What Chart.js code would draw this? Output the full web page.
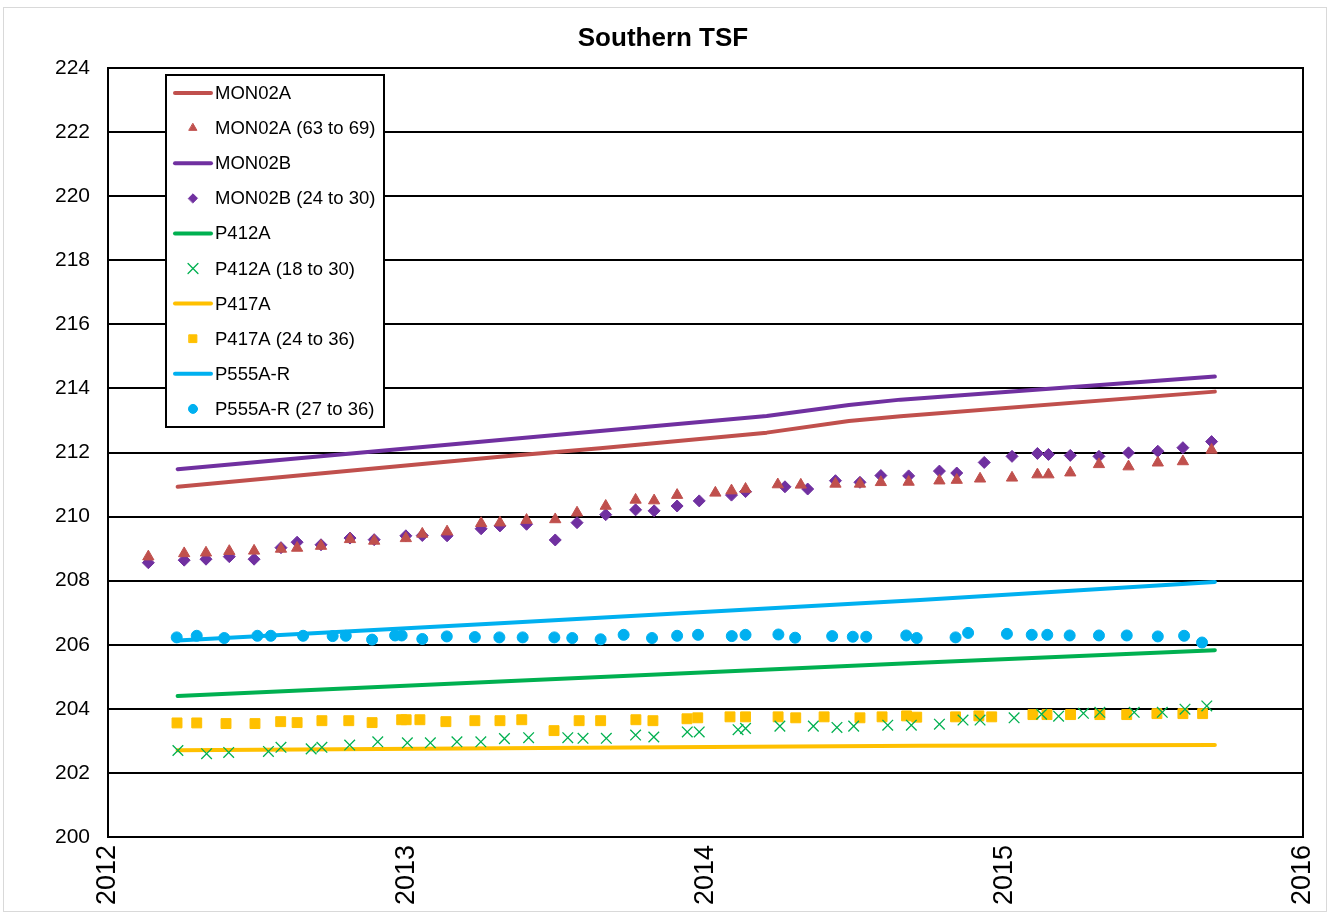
<!DOCTYPE html>
<html>
<head>
<meta charset="utf-8">
<title>Southern TSF</title>
<script src="https://cdn.jsdelivr.net/npm/chart.js@4.4.1/dist/chart.umd.min.js"></script>
<style>
body { margin: 0; background: #fff; }
canvas { display: block; }
</style>
</head>
<body>
<canvas id="chart" width="1330" height="915"></canvas>
<script>
//x axis range and tick years
var yearTicks = [2012, 2013, 2014, 2015, 2016];
var levelTicks = [200, 202, 204, 206, 208, 210, 212, 214, 216, 218, 220, 222, 224];

//MON02A
var mon02aLineX = [2012.233, 2013.312, 2013.647, 2014.205, 2014.48, 2014.653, 2015.705];
var mon02aLineY = [210.93, 211.87, 212.13, 212.62, 212.98, 213.13, 213.90];
var mon02aX = [2012.135, 2012.255, 2012.328, 2012.406, 2012.489, 2012.579, 2012.633, 2012.713, 2012.810, 2012.891,
    2012.997, 2013.052, 2013.135, 2013.249, 2013.312, 2013.401, 2013.497, 2013.570, 2013.666, 2013.766,
    2013.828, 2013.905, 2014.033, 2014.087, 2014.134, 2014.242, 2014.319, 2014.435, 2014.517, 2014.587,
    2014.680, 2014.783, 2014.841, 2014.919, 2015.026, 2015.111, 2015.148, 2015.221, 2015.317, 2015.416,
    2015.514, 2015.598, 2015.694];
var mon02aY = [208.75, 208.85, 208.87, 208.92, 208.93, 208.99, 209.02, 209.08, 209.29, 209.24,
    209.32, 209.46, 209.53, 209.79, 209.81, 209.89, 209.91, 210.12, 210.33, 210.52,
    210.50, 210.67, 210.74, 210.81, 210.86, 211.00, 210.99, 211.02, 211.02, 211.07,
    211.08, 211.12, 211.14, 211.18, 211.21, 211.31, 211.31, 211.37, 211.63, 211.56,
    211.68, 211.72, 212.08];

//MON02B
var mon02bLineX = [2012.233, 2013.312, 2013.647, 2014.205, 2014.48, 2014.653, 2015.705];
var mon02bLineY = [211.48, 212.39, 212.67, 213.14, 213.48, 213.65, 214.37];
var mon02bX = [2012.135, 2012.255, 2012.328, 2012.406, 2012.489, 2012.579, 2012.633, 2012.713, 2012.810, 2012.891,
    2012.997, 2013.052, 2013.135, 2013.249, 2013.312, 2013.401, 2013.497, 2013.570, 2013.666, 2013.766,
    2013.828, 2013.905, 2013.979, 2014.087, 2014.134, 2014.266, 2014.342, 2014.435, 2014.517, 2014.587,
    2014.680, 2014.783, 2014.841, 2014.933, 2015.026, 2015.111, 2015.148, 2015.221, 2015.317, 2015.416,
    2015.514, 2015.598, 2015.694];
var mon02bY = [208.56, 208.64, 208.67, 208.75, 208.67, 209.03, 209.20, 209.12, 209.33, 209.28,
    209.40, 209.41, 209.40, 209.62, 209.71, 209.76, 209.27, 209.81, 210.06, 210.21,
    210.18, 210.33, 210.49, 210.67, 210.78, 210.93, 210.86, 211.12, 211.07, 211.28,
    211.27, 211.42, 211.36, 211.69, 211.88, 211.97, 211.94, 211.91, 211.88, 211.99,
    212.04, 212.15, 212.34];

//P412A
var p412aLineX = [2012.233, 2013.312, 2014.718, 2015.705];
var p412aLineY = [204.40, 204.85, 205.44, 205.83];
var p412aX = [2012.234, 2012.330, 2012.404, 2012.537, 2012.579, 2012.680, 2012.716, 2012.809, 2012.903, 2013.002,
    2013.079, 2013.168, 2013.248, 2013.327, 2013.408, 2013.539, 2013.590, 2013.668, 2013.766, 2013.827,
    2013.939, 2013.979, 2014.109, 2014.134, 2014.249, 2014.361, 2014.440, 2014.496, 2014.610, 2014.689,
    2014.783, 2014.862, 2014.919, 2015.033, 2015.125, 2015.182, 2015.265, 2015.320, 2015.435, 2015.529,
    2015.605, 2015.678];
var p412aY = [202.70, 202.60, 202.64, 202.67, 202.80, 202.75, 202.80, 202.87, 202.97, 202.94,
    202.94, 202.97, 202.97, 203.07, 203.10, 203.10, 203.08, 203.08, 203.18, 203.12,
    203.28, 203.28, 203.35, 203.39, 203.46, 203.46, 203.42, 203.46, 203.49, 203.49,
    203.52, 203.65, 203.65, 203.72, 203.83, 203.77, 203.86, 203.89, 203.89, 203.89,
    203.99, 204.09];

//P417A
var p417aLineX = [2012.233, 2013.312, 2014.718, 2015.705];
var p417aLineY = [202.71, 202.77, 202.85, 202.87];
var p417aX = [2012.231, 2012.297, 2012.395, 2012.492, 2012.578, 2012.633, 2012.716, 2012.806, 2012.884, 2012.983,
    2012.998, 2013.044, 2013.131, 2013.228, 2013.312, 2013.385, 2013.493, 2013.577, 2013.649, 2013.767,
    2013.824, 2013.938, 2013.974, 2014.082, 2014.134, 2014.243, 2014.302, 2014.397, 2014.517, 2014.591,
    2014.673, 2014.707, 2014.837, 2014.915, 2014.958, 2015.096, 2015.143, 2015.222, 2015.320, 2015.410,
    2015.511, 2015.598, 2015.664];
var p417aY = [203.56, 203.56, 203.54, 203.54, 203.60, 203.57, 203.63, 203.63, 203.57, 203.66,
    203.66, 203.66, 203.60, 203.63, 203.63, 203.66, 203.32, 203.63, 203.63, 203.66,
    203.63, 203.69, 203.72, 203.75, 203.75, 203.75, 203.72, 203.75, 203.72, 203.75,
    203.78, 203.74, 203.75, 203.78, 203.75, 203.82, 203.82, 203.82, 203.82, 203.82,
    203.85, 203.85, 203.85];

//P555A-R
var p555LineX = [2012.233, 2013.312, 2014.718, 2015.705];
var p555LineY = [206.13, 206.67, 207.40, 207.96];
var p555X = [2012.230, 2012.297, 2012.389, 2012.500, 2012.545, 2012.653, 2012.752, 2012.796, 2012.884, 2012.961,
    2012.983, 2013.052, 2013.134, 2013.228, 2013.310, 2013.388, 2013.494, 2013.554, 2013.649, 2013.726,
    2013.821, 2013.905, 2013.975, 2014.088, 2014.134, 2014.244, 2014.300, 2014.424, 2014.493, 2014.538,
    2014.672, 2014.707, 2014.837, 2014.879, 2015.009, 2015.092, 2015.144, 2015.219, 2015.317, 2015.410,
    2015.514, 2015.602, 2015.662];
var p555Y = [206.23, 206.28, 206.21, 206.28, 206.28, 206.28, 206.27, 206.28, 206.16, 206.29,
    206.29, 206.18, 206.26, 206.24, 206.23, 206.23, 206.23, 206.21, 206.17, 206.31,
    206.21, 206.28, 206.31, 206.27, 206.31, 206.32, 206.22, 206.27, 206.25, 206.25,
    206.29, 206.21, 206.23, 206.37, 206.34, 206.31, 206.31, 206.29, 206.29, 206.29,
    206.26, 206.28, 206.07];

var fontName = '"Liberation Sans", Arial, sans-serif';

//把x、y数组合成点
function toPoints(xs, ys) {
    var pts = [];
    for(var i = 0; i < xs.length; i++) {
        pts.push({x: xs[i], y: ys[i]});
    }
    return pts;
}

//趋势线
function lineSet(label, xs, ys, color) {
    return {
        label: label,
        data: toPoints(xs, ys),
        showLine: true,
        borderColor: color,
        backgroundColor: color,
        borderWidth: 4,
        borderCapStyle: 'round',
        borderJoinStyle: 'round',
        pointRadius: 0,
        pointHoverRadius: 0,
        tension: 0
    };
}

//监测点
function pointSet(label, xs, ys, color, style, radius, legendRadius, borderWidth) {
    return {
        label: label,
        data: toPoints(xs, ys),
        showLine: false,
        borderColor: color,
        backgroundColor: color,
        pointStyle: style,
        pointRadius: radius,
        pointHoverRadius: radius,
        pointBorderWidth: borderWidth,
        legendRadius: legendRadius
    };
}

//chart area border, outer frame and the legend box
var framePlugin = {
    id: 'frame',
    beforeDraw: function(chart) {
        var ctx = chart.ctx;
        ctx.save();
        ctx.fillStyle = '#ffffff';
        ctx.fillRect(0, 0, chart.width, chart.height);
        ctx.strokeStyle = '#d9d9d9';
        ctx.lineWidth = 1;
        ctx.strokeRect(3.5, 7.5, chart.width - 7, chart.height - 11);
        ctx.restore();
    },
    afterDatasetsDraw: function(chart) {
        var ctx = chart.ctx;
        var area = chart.chartArea;
        ctx.save();
        ctx.strokeStyle = '#000000';
        ctx.lineWidth = 2;
        ctx.strokeRect(area.left, area.top, area.right - area.left, area.bottom - area.top);

        //legend
        var bx = area.left + 58;
        var by = area.top + 7;
        var bw = 218;
        var rowH = 35.1;
        var sets = chart.data.datasets;
        var bh = 352;
        ctx.fillStyle = '#ffffff';
        ctx.fillRect(bx, by, bw, bh);
        ctx.strokeStyle = '#000000';
        ctx.lineWidth = 2;
        ctx.strokeRect(bx, by, bw, bh);
        ctx.font = '18.5px ' + fontName;
        ctx.textBaseline = 'middle';
        ctx.textAlign = 'left';
        for(var i = 0; i < sets.length; i++) {
            var ds = sets[i];
            var cy = by + 18 + i * rowH;
            if(ds.showLine) {
                ctx.strokeStyle = ds.borderColor;
                ctx.lineWidth = 4;
                ctx.lineCap = 'round';
                ctx.beginPath();
                ctx.moveTo(bx + 9, cy);
                ctx.lineTo(bx + 45, cy);
                ctx.stroke();
            } else {
                ctx.fillStyle = ds.backgroundColor;
                ctx.strokeStyle = ds.borderColor;
                ctx.lineWidth = ds.pointBorderWidth;
                Chart.helpers.drawPoint(ctx, {
                    pointStyle: ds.pointStyle,
                    radius: ds.legendRadius,
                    borderWidth: ds.pointBorderWidth,
                    rotation: 0
                }, bx + 27, cy);
            }
            ctx.fillStyle = '#000000';
            ctx.fillText(ds.label, bx + 49, cy + 1);
        }
        ctx.restore();
    }
};

new Chart(document.getElementById('chart'), {
    type: 'scatter',
    data: {
        datasets: [
            lineSet('MON02A', mon02aLineX, mon02aLineY, '#C0504D'),
            pointSet('MON02A (63 to 69)', mon02aX, mon02aY, '#C0504D', 'triangle', 6.5, 4.5, 1),
            lineSet('MON02B', mon02bLineX, mon02bLineY, '#7030A0'),
            pointSet('MON02B (24 to 30)', mon02bX, mon02bY, '#7030A0', 'rectRot', 6, 4.5, 1),
            lineSet('P412A', p412aLineX, p412aLineY, '#00B050'),
            pointSet('P412A (18 to 30)', p412aX, p412aY, '#00B050', 'crossRot', 7.5, 7, 1.3),
            lineSet('P417A', p417aLineX, p417aLineY, '#FFC000'),
            pointSet('P417A (24 to 36)', p417aX, p417aY, '#FFC000', 'rect', 7, 5.5, 1),
            lineSet('P555A-R', p555LineX, p555LineY, '#00B0F0'),
            pointSet('P555A-R (27 to 36)', p555X, p555Y, '#00B0F0', 'circle', 5.5, 4.5, 1)
        ]
    },
    options: {
        responsive: false,
        animation: false,
        devicePixelRatio: 1,
        layout: {
            padding: {left: 23, right: 27, top: 0, bottom: 0}
        },
        plugins: {
            legend: {display: false},
            tooltip: {enabled: false},
            title: {
                display: true,
                text: 'Southern TSF',
                color: '#000000',
                font: {family: fontName, size: 26, weight: 'bold'},
                padding: {top: 23.5, bottom: 13.3}
            }
        },
        scales: {
            x: {
                type: 'linear',
                min: yearTicks[0],
                max: yearTicks[yearTicks.length - 1],
                afterBuildTicks: function(scale) {
                    scale.ticks = yearTicks.map(function(v) { return {value: v}; });
                },
                afterFit: function(scale) {
                    scale.height = 78;
                    scale.paddingLeft = 0;
                    scale.paddingRight = 0;
                },
                grid: {display: false, drawTicks: false},
                border: {display: false},
                ticks: {
                    color: '#000000',
                    font: {family: fontName, size: 27},
                    minRotation: 90,
                    maxRotation: 90,
                    padding: 8,
                    callback: function(value) { return String(value); }
                }
            },
            y: {
                min: levelTicks[0],
                max: levelTicks[levelTicks.length - 1],
                afterBuildTicks: function(scale) {
                    scale.ticks = levelTicks.map(function(v) { return {value: v}; });
                },
                afterFit: function(scale) {
                    scale.width = 85;
                    scale.paddingTop = 0;
                    scale.paddingBottom = 0;
                },
                grid: {color: '#000000', lineWidth: 2, drawTicks: false},
                border: {display: false},
                ticks: {
                    color: '#000000',
                    font: {family: fontName, size: 21},
                    padding: 18,
                    callback: function(value) { return String(value); }
                }
            }
        }
    },
    plugins: [framePlugin]
});
</script>
</body>
</html>
